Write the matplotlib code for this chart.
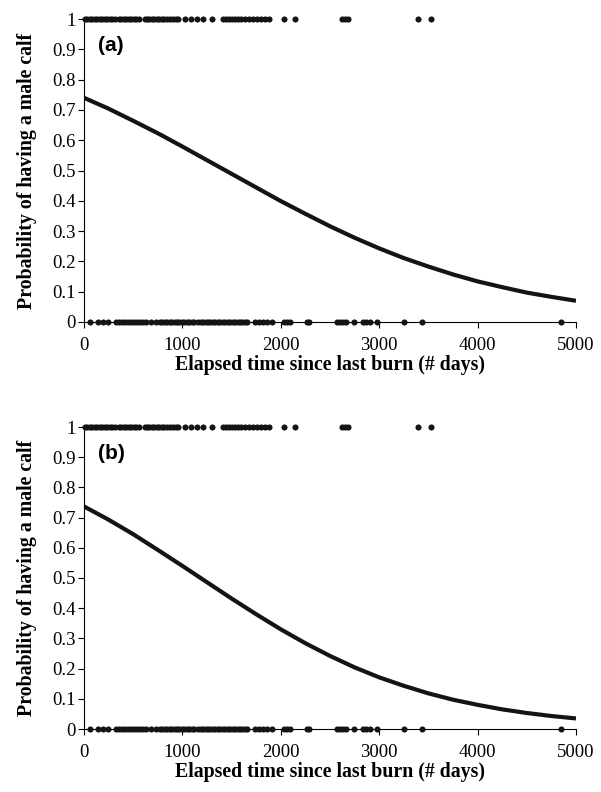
import matplotlib
matplotlib.use("Agg")
import matplotlib.pyplot as plt

# days since last burn for calves that were male (y=1) or female (y=0)
male_days = [10, 35, 60, 85, 110, 135, 160, 185, 210, 235, 260, 285, 310,
             355, 380, 405, 430, 455, 480, 505, 530, 555,
             615, 640, 665, 690, 715, 740, 765, 790, 810,
             840, 870, 900, 930, 960,
             1030, 1090, 1150, 1210, 1300,
             1415, 1445, 1475, 1505, 1530,
             1560, 1600, 1640, 1680, 1720, 1760, 1800, 1840, 1880,
             2030, 2145, 2620, 2650, 2685, 3390, 3530]
female_days = [58, 142, 193, 244,
               330, 360, 390, 420, 450, 480, 510, 540, 570, 600, 630,
               684, 735,
               770, 795, 820, 845, 870, 895, 920, 945, 970, 995, 1020, 1045,
               1070, 1095, 1120,
               1160, 1185, 1210, 1235, 1260, 1285, 1310, 1335, 1360, 1385,
               1410, 1435, 1460, 1485, 1510, 1535, 1560, 1585, 1610, 1635, 1660,
               1740, 1780, 1820, 1855, 1910,
               2030, 2060, 2090, 2270, 2290,
               2570, 2600, 2635, 2665, 2745, 2840, 2870, 2905, 2980,
               3255, 3440, 4850]

# fitted curves
curve_days = [0, 250, 500, 750, 1000, 1250, 1500, 1750, 2000, 2250, 2500,
              2750, 3000, 3250, 3500, 3750, 4000, 4250, 4500, 4750, 5000]
prob_a = [0.740, 0.704, 0.664, 0.623, 0.579, 0.534, 0.489, 0.444, 0.399,
          0.357, 0.316, 0.278, 0.243, 0.211, 0.183, 0.157, 0.134, 0.115,
          0.097, 0.083, 0.070]
prob_b = [0.737, 0.693, 0.645, 0.593, 0.540, 0.486, 0.432, 0.380, 0.330,
          0.284, 0.242, 0.204, 0.171, 0.143, 0.118, 0.097, 0.080, 0.065,
          0.053, 0.043, 0.035]

x_ticks = [0, 1000, 2000, 3000, 4000, 5000]
y_ticks = [0, 0.1, 0.2, 0.3, 0.4, 0.5, 0.6, 0.7, 0.8, 0.9, 1]
y_ticklabels = ["0", "0.1", "0.2", "0.3", "0.4", "0.5", "0.6", "0.7", "0.8", "0.9", "1"]

W, H = 601, 792
serif = "Liberation Serif"


def draw_panel(ax, probs, tag):
    ax.plot(curve_days, probs, color="#141414", lw=3, solid_capstyle="butt")
    ax.plot(male_days, [1] * len(male_days), "o", color="#141414", ms=4.4,
            mec="none", clip_on=False, zorder=5)
    ax.plot(female_days, [0] * len(female_days), "o", color="#141414", ms=4.4,
            mec="none", clip_on=False, zorder=5)
    ax.set_xlim(0, 5000)
    ax.set_ylim(0, 1)
    ax.spines["top"].set_visible(False)
    ax.spines["right"].set_visible(False)
    ax.set_xticks(x_ticks)
    ax.set_xticklabels([str(t) for t in x_ticks], fontfamily=serif, fontsize=13.5)
    ax.set_yticks(y_ticks)
    ax.set_yticklabels(y_ticklabels, fontfamily=serif, fontsize=13.5)
    ax.tick_params(direction="out", length=4, width=0.8)
    ax.tick_params(axis="x", pad=7)
    ax.tick_params(axis="y", pad=2)
    ax.set_xlabel("Elapsed time since last burn (# days)", fontfamily=serif,
                  fontweight="bold", fontsize=14.3)
    ax.set_ylabel("Probability of having a male calf", fontfamily=serif,
                  fontweight="bold", fontsize=14.3)
    ax.xaxis.set_label_coords(0.5, -0.108)
    ax.yaxis.set_label_coords(-0.096, 0.5)
    ax.text(0.028, 0.912, tag, transform=ax.transAxes, fontfamily="Liberation Sans",
            fontweight="bold", fontsize=15, va="center", ha="left")


fig = plt.figure(figsize=(W / 100, H / 100), dpi=100)
ax_a = fig.add_axes([84 / W, 1 - 322 / H, 492 / W, 303 / H])
ax_b = fig.add_axes([84 / W, 1 - 729 / H, 492 / W, 302 / H])
draw_panel(ax_a, prob_a, "(a)")
draw_panel(ax_b, prob_b, "(b)")

fig.savefig("out.png", dpi=100)
